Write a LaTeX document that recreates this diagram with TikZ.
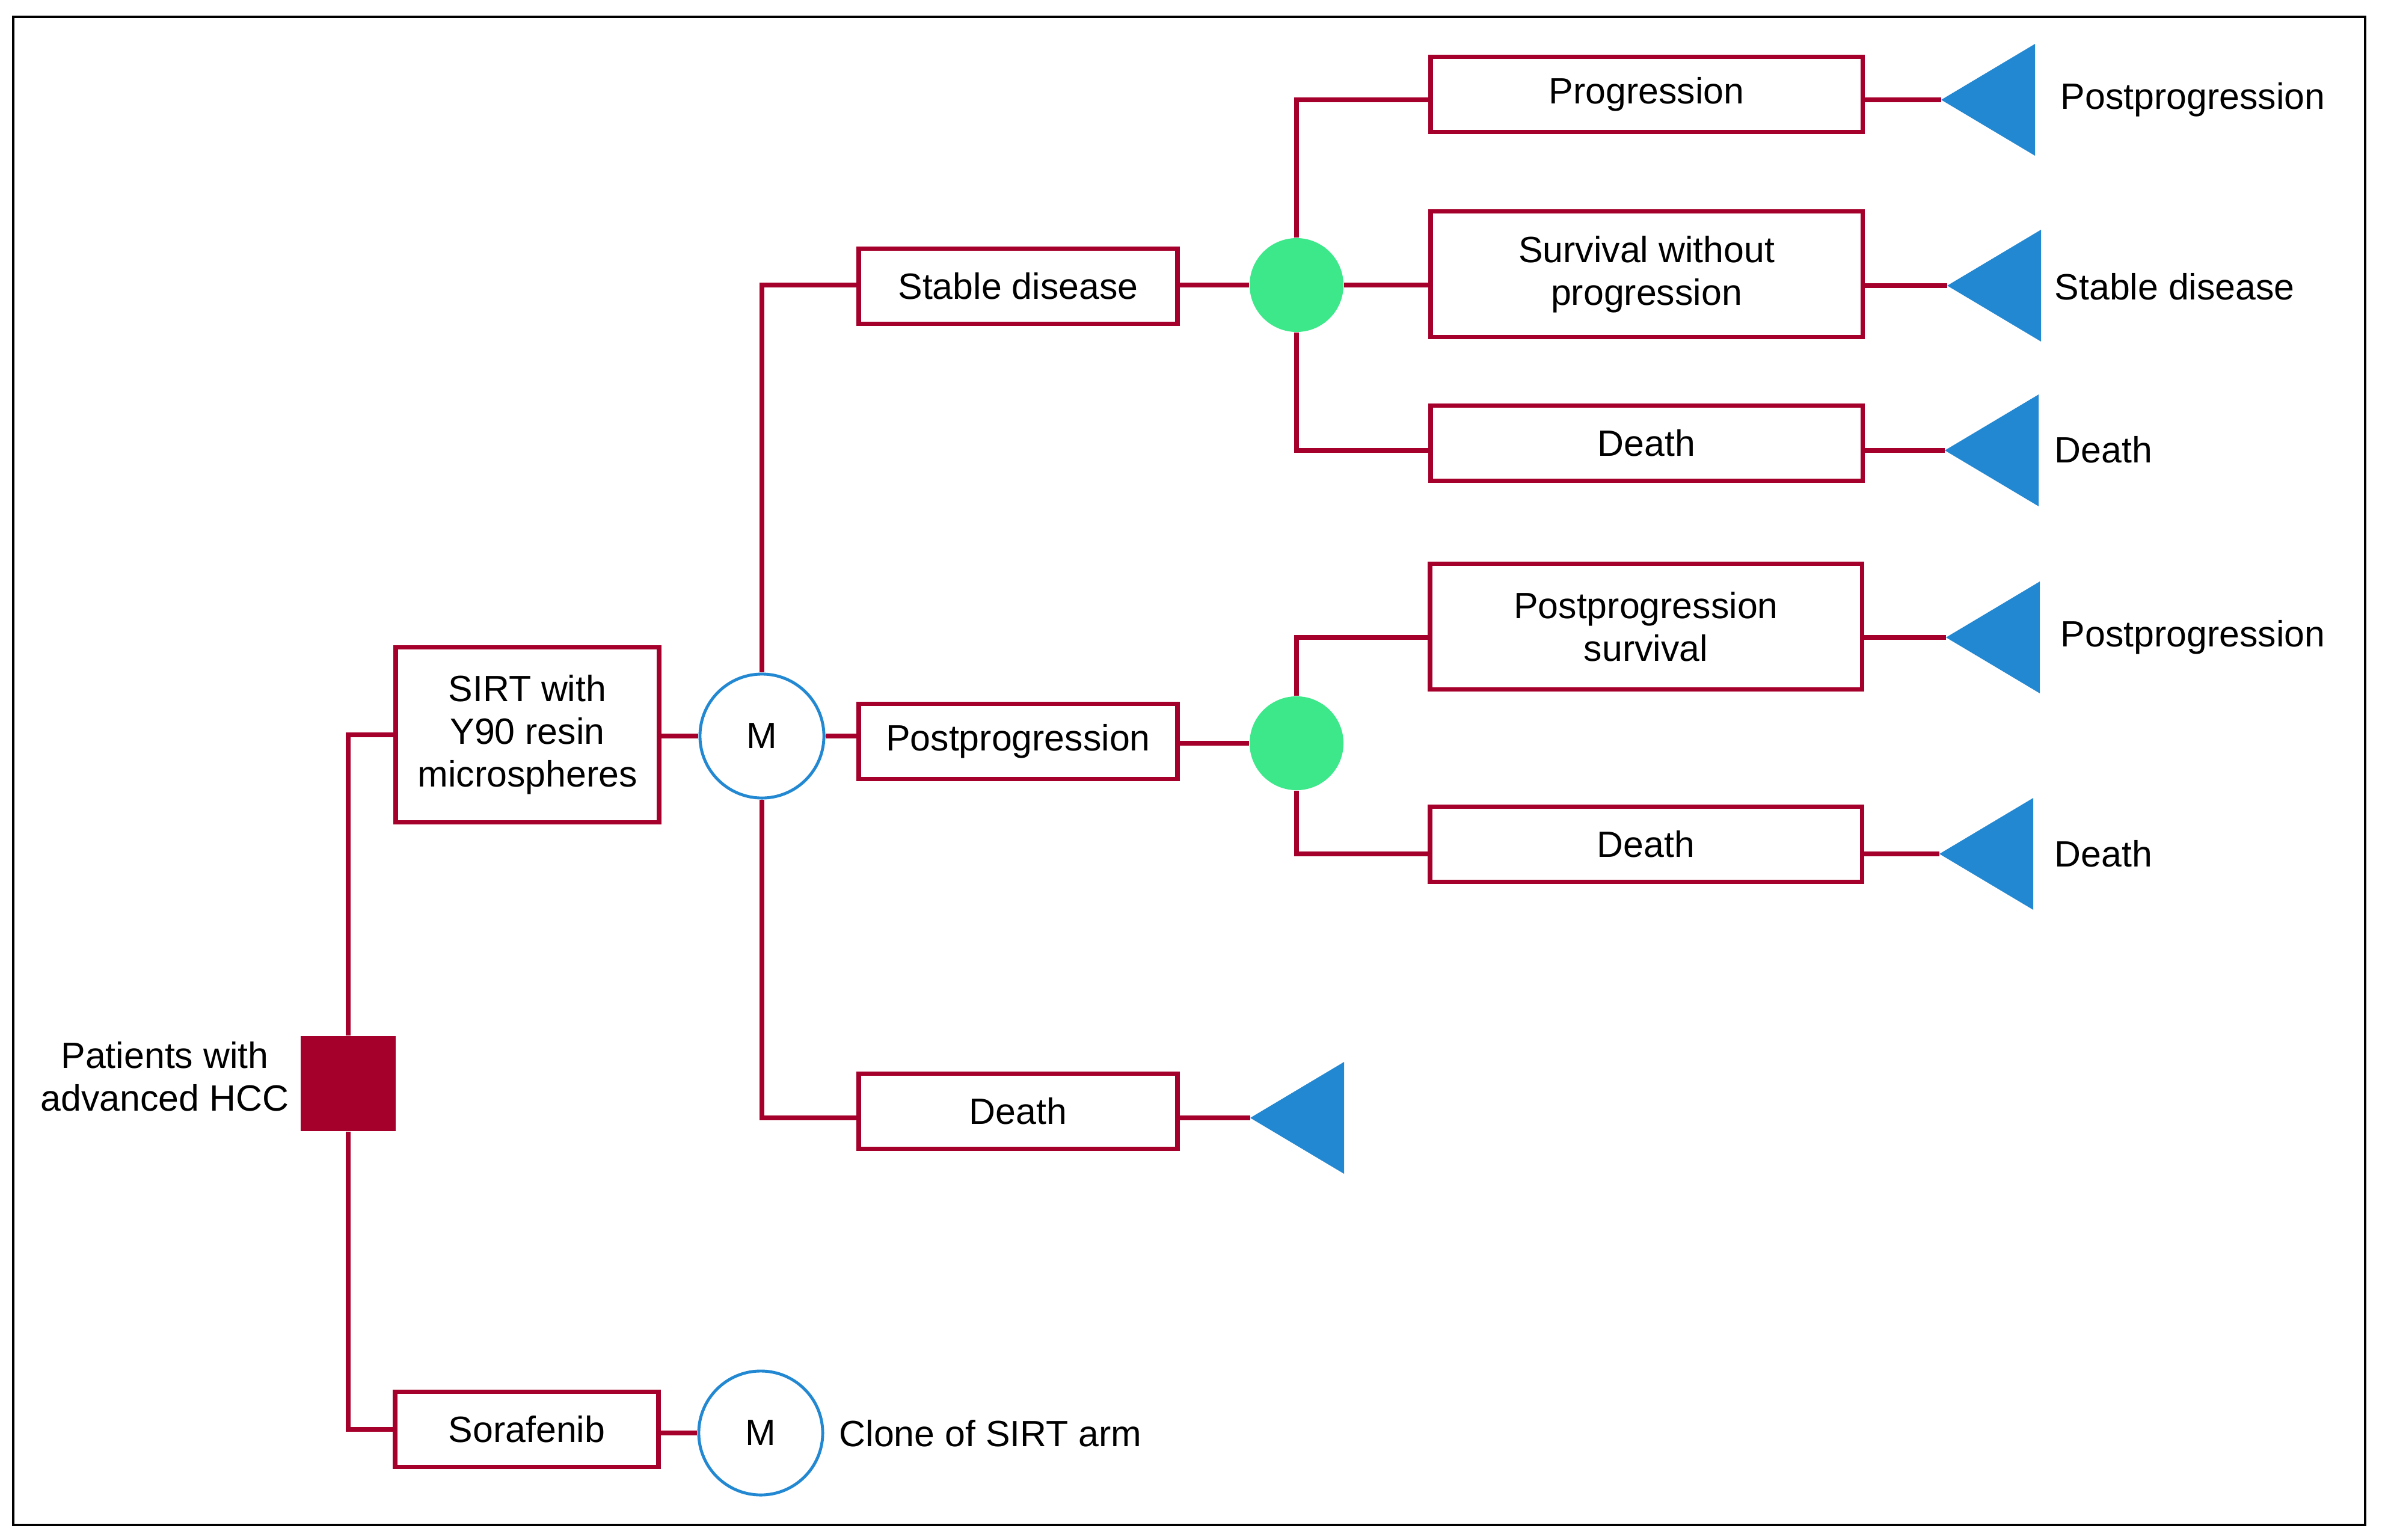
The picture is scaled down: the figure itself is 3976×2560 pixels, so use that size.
\documentclass[tikz,border=0pt]{standalone}
\usepackage{fontspec}
\setmainfont{Liberation Sans}
\definecolor{hred}{HTML}{A5002B}
\definecolor{hblue}{HTML}{2388D2}
\definecolor{hgreen}{HTML}{3CE88A}
\begin{document}
\begin{tikzpicture}[x=0.01cm,y=-0.01cm,
  every node/.style={font=\fontsize{17.3}{20.2}\selectfont, inner sep=0pt, align=center},
  conn/.style={draw=hred, line width=2.2pt},
  boxa/.style={draw=hred, line width=2.1pt, fill=white, minimum height=1.25cm},
  midbox/.style={boxa, minimum width=5.3cm},
  rbox/.style={boxa, minimum width=7.18cm},
  tallbox/.style={rbox, minimum height=2.09cm},
  mnode/.style={circle, draw=hblue, line width=1.4pt, fill=white, minimum size=2.06cm},
  chance/.style={circle, fill=hgreen, minimum size=1.56cm},
  term/.style={fill=hblue},
  lbl/.style={anchor=west}
]
\useasboundingbox (0,0) rectangle (3976,2560);
\draw[black, line width=1.2pt] (22,28) rectangle (3933,2536);

% nodes
\node[fill=hred, minimum size=1.58cm] (sq) at (579,1802) {};
\node (pat) at (274,1790) {Patients with\\advanced HCC};
\node[boxa, minimum width=4.38cm, minimum height=2.91cm] (sirt) at (877,1222) {SIRT with\\Y90 resin\\microspheres};
\node[boxa, minimum width=4.38cm] (sora) at (876,2377) {Sorafenib};
\node[mnode] (m1) at (1267,1224) {M};
\node[mnode] (m2) at (1265,2383) {M};
\node[lbl] (clone) at (1395,2384) {Clone of SIRT arm};

\node[midbox] (stable) at (1693,476) {Stable disease};
\node[midbox] (pp) at (1693,1233) {Postprogression};
\node[midbox] (dmid) at (1693,1848) {Death};

\node[chance] (g1) at (2156,474) {};
\node[chance] (g2) at (2156,1236) {};

\node[rbox] (prog) at (2738,157) {Progression};
\node[tallbox] (surv) at (2738,456) {Survival without\\progression};
\node[rbox] (d1) at (2738,737) {Death};
\node[tallbox] (pps) at (2737,1042) {Postprogression\\survival};
\node[rbox] (d2) at (2737,1404) {Death};

% terminal triangles
\coordinate (t1) at (3228,166);
\coordinate (t2) at (3238,475);
\coordinate (t3) at (3234,749);
\coordinate (t4) at (3236,1060);
\coordinate (t5) at (3225,1420);
\coordinate (t6) at (2079,1859);
\foreach \t in {t1,t2,t3,t4,t5,t6}{
  \fill[term] (\t) -- ++(156,-93) -- ++(0,186) -- cycle;
}
\node[lbl] (l1) at (3426,166) {Postprogression};
\node[lbl] (l2) at (3416,477) {Stable disease};
\node[lbl] (l3) at (3416,748) {Death};
\node[lbl] (l4) at (3426,1060) {Postprogression};
\node[lbl] (l5) at (3416,1420) {Death};

% connectors
\draw[conn] (sq) |- (sirt.west);
\draw[conn] (sq) |- (sora.west);
\draw[conn] (sirt.east |- m1) -- (m1);
\draw[conn] (sora.east |- m2) -- (m2);
\draw[conn] (m1) |- (stable.west |- g1);
\draw[conn] (m1) -- (pp.west |- m1);
\draw[conn] (m1) |- (dmid.west |- t6);
\draw[conn] (dmid.east |- t6) -- (t6);
\draw[conn] (stable.east |- g1) -- (g1);
\draw[conn] (pp.east |- g2) -- (g2);
\draw[conn] (g1) |- (prog.west |- t1);
\draw[conn] (g1) -- (surv.west |- g1);
\draw[conn] (g1) |- (d1.west |- t3);
\draw[conn] (g2) |- (pps.west |- t4);
\draw[conn] (g2) |- (d2.west |- t5);
\draw[conn] (prog.east |- t1) -- (t1);
\draw[conn] (surv.east |- t2) -- (t2);
\draw[conn] (d1.east |- t3) -- (t3);
\draw[conn] (pps.east |- t4) -- (t4);
\draw[conn] (d2.east |- t5) -- (t5);
\end{tikzpicture}
\end{document}
